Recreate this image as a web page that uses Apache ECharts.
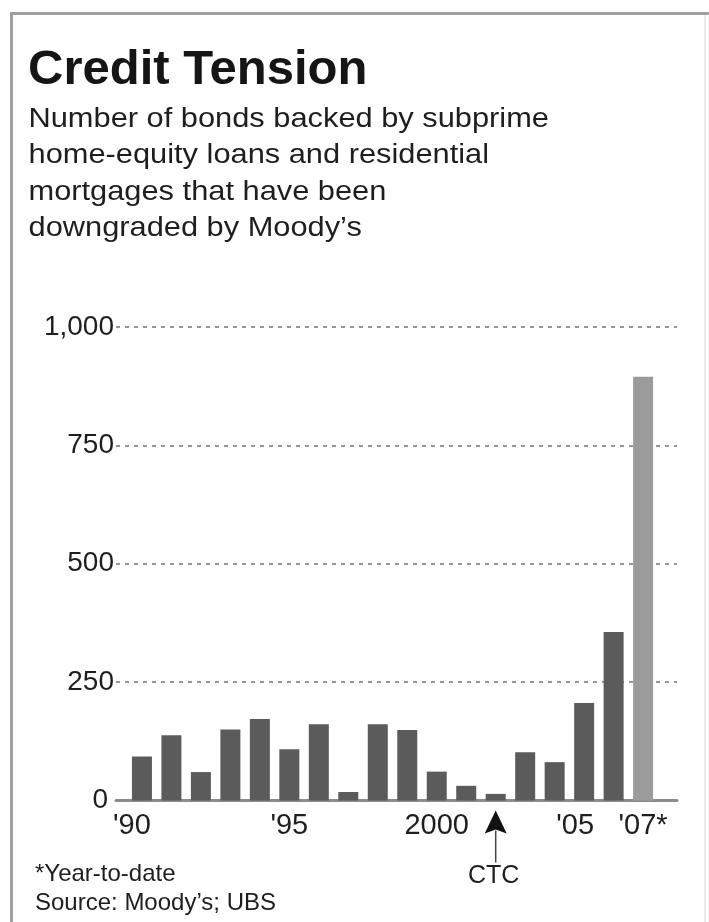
<!DOCTYPE html>
<html>
<head>
<meta charset="utf-8">
<script src="https://cdn.jsdelivr.net/npm/echarts@6/dist/echarts.min.js"></script>
<style>
html,body{margin:0;padding:0;background:#ffffff;}
#chart{width:709px;height:922px;}
</style>
</head>
<body>
<div id="chart"></div>
<script>
// ---- data ----
const years = [1990,1991,1992,1993,1994,1995,1996,1997,1998,1999,2000,2001,2002,2003,2004,2005,2006,2007];
const downgrades = [93,138,60,150,172,108,161,18,161,149,61,31,14,102,81,206,356,895];
const ytdYear = 2007;
const yTicks = [0,250,500,750,1000];
const xTickYears = [1990,1995,2000,2005,2007];
const xTickLabels = ["'90","'95","2000","'05","'07*"];
const titleText = 'Credit Tension';
const subtitleLines = [
  'Number of bonds backed by subprime',
  'home-equity loans and residential',
  'mortgages that have been',
  'downgraded by Moody\u2019s'
];
const footnoteLines = ['*Year-to-date', 'Source: Moody\u2019s; UBS'];
const annotationYear = 2002;
const annotationLabel = 'CTC';

// ---- chart ----
const FONT = '"Liberation Sans", Arial, Helvetica, sans-serif';
const TEXT = '#1e1e1e';
const chart = echarts.init(document.getElementById('chart'), null, {renderer: 'canvas'});

const labelShift = {"'90": 20, "'05": 18}; // right padding, shifts label left
const xRich = {};
xTickLabels.forEach((t, i) => {
  xRich['t' + i] = {fontSize: 29, fontFamily: FONT, color: TEXT, lineHeight: 30,
                    padding: [0, labelShift[t] || 0, 0, 0]};
});

const option = {
  backgroundColor: '#ffffff',
  animation: false,
  grid: {left: 116, right: 32, top: 327, bottom: 121.5, containLabel: false, outerBoundsMode: 'none'},
  xAxis: {
    type: 'value',
    min: 1989.12,
    max: 2008.15,
    splitLine: {show: false},
    axisTick: {show: false},
    axisLine: {show: true, onZero: false, lineStyle: {color: '#8c8c8c', width: 3}},
    axisLabel: {
      customValues: xTickYears,
      margin: 10,
      formatter: v => {
        const i = xTickYears.indexOf(Math.round(v));
        return i < 0 ? '' : '{t' + i + '|' + xTickLabels[i] + '}';
      },
      rich: xRich,
      fontSize: 29, fontFamily: FONT, color: TEXT
    }
  },
  yAxis: {
    type: 'value',
    min: yTicks[0],
    max: yTicks[yTicks.length - 1],
    interval: yTicks[1] - yTicks[0],
    axisLine: {show: false},
    axisTick: {show: false},
    splitLine: {show: true, lineStyle: {type: [4, 5], color: '#969696', width: 2}},
    axisLabel: {
      margin: 2,
      fontSize: 28, fontFamily: FONT, color: TEXT,
      formatter: v => v === 0 ? '{z|0}' : '{n|' + v.toLocaleString('en-US') + '}',
      rich: {
        z: {fontSize: 28, fontFamily: FONT, color: TEXT, padding: [0, 6, 0, 0]},
        n: {fontSize: 28, fontFamily: FONT, color: TEXT}
      }
    }
  },
  series: [{
    type: 'bar',
    barWidth: 20,
    data: years.map((y, i) => [y, downgrades[i]]),
    itemStyle: {
      color: p => p.value[0] === ytdYear ? '#9b9b9b' : '#5b5b5b'
    },
    z: 1
  }]
};
chart.setOption(option);

// ---- titles, notes, frame & annotation ----
const base = chart.convertToPixel({xAxisIndex: 0, yAxisIndex: 0}, [annotationYear, 0]);
const ax = base[0], ay = base[1];

chart.setOption({
  graphic: [
    // frame
    {type: 'line', shape: {x1: 11.5, y1: 12, x2: 11.5, y2: 922}, style: {stroke: '#a0a0a0', lineWidth: 3}, silent: true},
    {type: 'line', shape: {x1: 10, y1: 13.5, x2: 709, y2: 13.5}, style: {stroke: '#a0a0a0', lineWidth: 3}, silent: true},
    {type: 'line', shape: {x1: 705, y1: 15, x2: 705, y2: 922}, style: {stroke: '#ececec', lineWidth: 2}, silent: true},
    // title
    {type: 'text', x: 28, y: 70.5, silent: true,
     style: {text: titleText, font: 'bold 49px ' + FONT, fill: '#151515', align: 'left', verticalAlign: 'middle'}},
    // subtitle
    {type: 'text', x: 28.5, y: 100.7, scaleX: 1.12, silent: true,
     style: {text: subtitleLines.join('\n'), font: '27.5px ' + FONT, fill: TEXT, lineHeight: 36.6,
             align: 'left', verticalAlign: 'top'}},
    // footnotes
    {type: 'text', x: 35, y: 860.4, silent: true,
     style: {text: footnoteLines.join('\n'), font: '24px ' + FONT, fill: TEXT, lineHeight: 28.4,
             align: 'left', verticalAlign: 'top'}},
    // annotation arrow
    {type: 'polygon', silent: true,
     shape: {points: [[ax, ay + 10], [ax + 11, ay + 33], [ax, ay + 29], [ax - 11, ay + 33]]},
     style: {fill: '#111111'}},
    {type: 'line', silent: true,
     shape: {x1: ax, y1: ay + 30, x2: ax, y2: ay + 62},
     style: {stroke: '#444444', lineWidth: 1.5}},
    {type: 'text', x: ax - 2, y: ay + 76, silent: true,
     style: {text: annotationLabel, font: '25px ' + FONT, fill: TEXT, align: 'center', verticalAlign: 'middle'}}
  ]
});
</script>
</body>
</html>
